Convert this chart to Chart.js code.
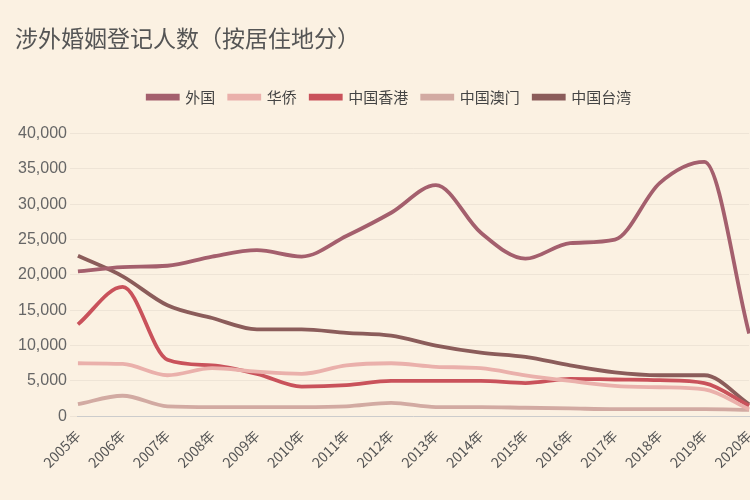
<!DOCTYPE html>
<html><head><meta charset="utf-8">
<script src="https://cdn.jsdelivr.net/npm/chart.js@4"></script>
<style>html,body{margin:0;padding:0;background:#fbf1e2;overflow:hidden}#w{width:764px;height:500px;position:relative}</style>
</head><body><div id="w"><canvas id="c"></canvas></div>
<script>
const years=['2005年','2006年','2007年','2008年','2009年','2010年','2011年','2012年','2013年','2014年','2015年','2016年','2017年','2018年','2019年','2020年'];
const foreign=[20500,21100,21300,22600,23500,22600,25500,28800,32700,26000,22300,24500,25000,33000,36000,11700];
const overseas=[7500,7400,5800,6800,6300,6000,7200,7500,7000,6800,5800,5000,4300,4100,3800,1000];
const hongkong=[13000,18300,8000,7200,6000,4200,4400,5000,5000,5000,4700,5300,5200,5100,4700,1500];
const macau=[1700,2900,1400,1300,1300,1300,1400,1900,1300,1300,1200,1100,1000,1000,1000,900];
const taiwan=[22700,19800,15700,13900,12300,12300,11800,11400,10000,9000,8400,7200,6200,5800,5800,1700];
const names=['外国','华侨','中国香港','中国澳门','中国台湾'];
const cols=['#a45f6d','#eab0ab','#c9525b','#d2aaa2','#8b5c5a'];
const vals=[foreign,overseas,hongkong,macau,taiwan];
const font="'Noto Sans CJK SC','Noto Sans',sans-serif";
const gap={id:'gap',beforeInit(chart){const f=chart.legend.fit;chart.legend.fit=function(){f.call(this);this.height+=19;};}};
new Chart(document.getElementById('c'),{type:'line',plugins:[gap],
data:{labels:years,datasets:vals.map((v,i)=>({label:names[i],data:v,borderColor:cols[i],backgroundColor:cols[i],borderWidth:3.8,pointRadius:0,cubicInterpolationMode:'monotone'}))},
options:{responsive:true,maintainAspectRatio:false,animation:false,
layout:{padding:{left:15,right:0,top:24,bottom:26}},
plugins:{title:{display:true,text:'涉外婚姻登记人数（按居住地分）',align:'start',color:'#555',font:{family:font,size:23,weight:'normal'},padding:{top:0,bottom:24}},
legend:{labels:{boxWidth:30,boxHeight:3,color:'#444',font:{family:font,size:15},padding:14}},tooltip:{enabled:false}},
scales:{x:{offset:false,grid:{display:false},border:{color:'#ccc'},ticks:{color:'#555',font:{family:font,size:14},maxRotation:45,minRotation:45,autoSkip:false}},
y:{min:0,max:40000,ticks:{stepSize:5000,color:'#666',font:{family:'Liberation Sans',size:16},callback:v=>v.toLocaleString('en-US')},grid:{color:'rgba(0,0,0,0.05)'},border:{display:false}}}}});
</script></body></html>
